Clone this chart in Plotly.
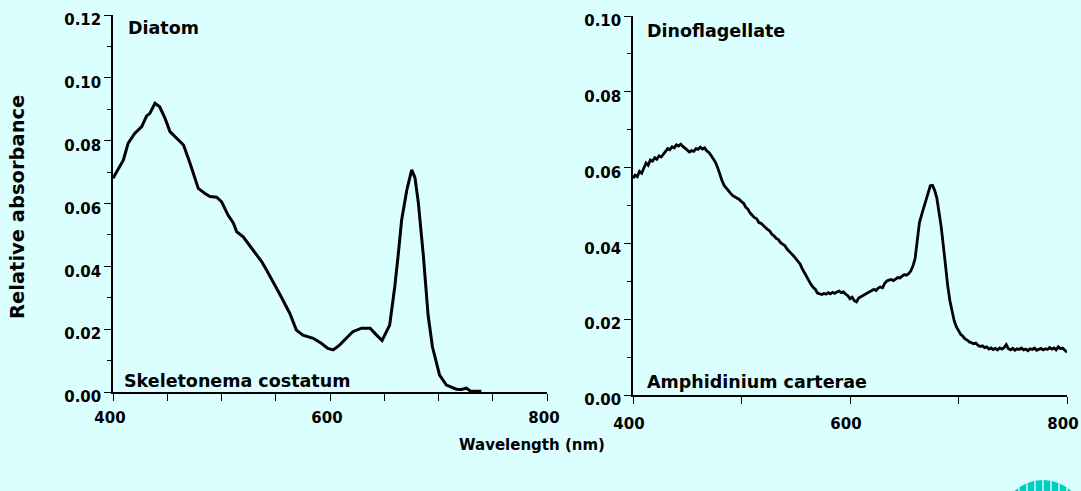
import plotly.graph_objects as go

# Diatom (Skeletonema costatum) absorption spectrum
diatom_nm = [400, 409.5, 414, 420, 426.5, 431, 434, 438.7, 443, 448, 452.5, 460, 465, 471,
             478.6, 484.8, 489.4, 495.5, 500, 506, 511, 514, 520, 529, 537, 541.5, 547.6,
             555, 563, 569, 575, 584.5, 592, 598, 603, 609, 615, 621, 629, 637, 643, 648,
             655, 659.7, 663, 666, 670.8, 673.7, 675.3, 678.3, 681.4, 686, 690.4, 694.4,
             701, 707.3, 716.5, 721, 725.7, 730, 739.5]
diatom_abs = [0.0680, 0.0738, 0.0792, 0.0823, 0.0845, 0.0879, 0.0887, 0.0919, 0.0908, 0.0871,
              0.0829, 0.0802, 0.0786, 0.0728, 0.0648, 0.0632, 0.0622, 0.0620, 0.0606, 0.0563,
              0.0537, 0.0510, 0.0494, 0.0452, 0.0415, 0.0388, 0.0351, 0.0303, 0.0250, 0.0197,
              0.0181, 0.0171, 0.0155, 0.0139, 0.0134, 0.0150, 0.0171, 0.0192, 0.0203, 0.0203,
              0.0181, 0.0164, 0.0213, 0.0335, 0.0441, 0.0547, 0.0643, 0.0691, 0.0707, 0.0682,
              0.0603, 0.0436, 0.0245, 0.0144, 0.0054, 0.0022, 0.0009, 0.0008, 0.0012, 0.0002,
              0.0002]

# Dinoflagellate (Amphidinium carterae) absorption spectrum
dino_nm = [400, 402, 404, 406, 408, 410, 412, 414, 416, 418, 420, 422, 424, 426, 428, 430,
           432, 434, 436, 438, 440, 442, 444, 446, 448, 450, 452, 454, 456, 458, 460, 462,
           464, 466, 468, 470, 472, 474, 476, 478, 480, 482, 484, 486, 488, 490, 492, 494,
           496, 498, 500, 502, 504, 506, 508, 510, 512, 514, 516, 518, 520, 522, 524, 526,
           528, 530, 532, 534, 536, 538, 540, 542, 544, 546, 548, 550, 552, 554, 556, 558,
           560, 562, 564, 566, 568, 570, 572, 574, 576, 578, 580, 582, 584, 586, 588, 590,
           592, 594, 596, 598, 600, 602, 604, 606, 608, 610, 612, 614, 616, 618, 620, 622,
           624, 626, 628, 630, 632, 634, 636, 638, 640, 642, 644, 646, 648, 650, 652, 654,
           656, 658, 660, 661, 662, 664, 666, 668, 670, 672, 674, 676, 678, 680, 682, 684,
           686, 688, 690, 692, 694, 696, 698, 700, 702, 704, 706, 708, 710, 712, 714, 716,
           718, 720, 722, 724, 726, 728, 730, 732, 734, 736, 738, 740, 742, 744, 746, 748,
           750, 752, 754, 756, 758, 760, 762, 764, 766, 768, 770, 772, 774, 776, 778, 780,
           782, 784, 786, 788, 790, 792, 794, 796, 798, 800]
dino_abs = [0.0572, 0.0580, 0.0576, 0.0590, 0.0585, 0.0601, 0.0612, 0.0606, 0.0620, 0.0617,
            0.0626, 0.0622, 0.0631, 0.0628, 0.0636, 0.0642, 0.0650, 0.0647, 0.0655, 0.0652,
            0.0660, 0.0657, 0.0662, 0.0656, 0.0650, 0.0646, 0.0641, 0.0645, 0.0643, 0.0650,
            0.0648, 0.0654, 0.0649, 0.0652, 0.0644, 0.0640, 0.0632, 0.0624, 0.0614, 0.0600,
            0.0582, 0.0566, 0.0553, 0.0545, 0.0537, 0.0532, 0.0526, 0.0523, 0.0518, 0.0516,
            0.0510, 0.0506, 0.0495, 0.0490, 0.0480, 0.0474, 0.0468, 0.0465, 0.0455, 0.0453,
            0.0446, 0.0442, 0.0437, 0.0433, 0.0424, 0.0420, 0.0413, 0.0410, 0.0402, 0.0398,
            0.0394, 0.0385, 0.0380, 0.0373, 0.0367, 0.0360, 0.0352, 0.0346, 0.0333, 0.0322,
            0.0312, 0.0303, 0.0292, 0.0284, 0.0279, 0.0269, 0.0268, 0.0265, 0.0268, 0.0266,
            0.0270, 0.0267, 0.0271, 0.0268, 0.0272, 0.0274, 0.0270, 0.0272, 0.0266, 0.0262,
            0.0254, 0.0258, 0.0249, 0.0246, 0.0256, 0.0259, 0.0262, 0.0265, 0.0269, 0.0273,
            0.0275, 0.0279, 0.0276, 0.0282, 0.0285, 0.0283, 0.0295, 0.0301, 0.0303, 0.0305,
            0.0302, 0.0307, 0.0310, 0.0309, 0.0313, 0.0318, 0.0316, 0.0320, 0.0327, 0.0340,
            0.0360, 0.0385, 0.0420, 0.0455, 0.0475, 0.0495, 0.0518, 0.0537, 0.0552, 0.0553,
            0.0540, 0.0520, 0.0485, 0.0445, 0.0395, 0.0340, 0.0290, 0.0250, 0.0218, 0.0196,
            0.0180, 0.0170, 0.0160, 0.0155, 0.0148, 0.0145, 0.0140, 0.0138, 0.0135, 0.0137,
            0.0131, 0.0128, 0.0130, 0.0125, 0.0127, 0.0121, 0.0124, 0.0120, 0.0123, 0.0119,
            0.0124, 0.0121, 0.0125, 0.0133, 0.0122, 0.0119, 0.0123, 0.0118, 0.0122, 0.0120,
            0.0124, 0.0119, 0.0121, 0.0117, 0.0122, 0.0120, 0.0124, 0.0118, 0.0121, 0.0123,
            0.0119, 0.0122, 0.0120, 0.0125, 0.0121, 0.0124, 0.0119, 0.0127, 0.0122, 0.0124,
            0.0118, 0.0113]

left_xticks = [400, 450, 500, 550, 600, 650, 700, 750, 800]
left_xtext = ["400", "", "", "", "600", "", "", "", "800"]
right_xticks = [400, 500, 600, 700, 800]
right_xtext = ["400", "", "600", "", "800"]
left_yticks = [0.00, 0.02, 0.04, 0.06, 0.08, 0.10, 0.12]
right_yticks = [0.00, 0.02, 0.04, 0.06, 0.08, 0.10]

W, H = 1081, 491
BG = "#DBFFFF"
FONT = "DejaVu Sans"


def px(x):
    return x / W


def py(y):
    return 1 - y / H


fig = go.Figure()
fig.add_trace(go.Scatter(x=diatom_nm, y=diatom_abs, mode="lines",
                         line=dict(color="black", width=3), xaxis="x", yaxis="y",
                         showlegend=False, hoverinfo="skip"))
fig.add_trace(go.Scatter(x=dino_nm, y=dino_abs, mode="lines",
                         line=dict(color="black", width=2.8), xaxis="x2", yaxis="y2",
                         showlegend=False, hoverinfo="skip"))

tickfont = dict(family=FONT, size=15, color="black", weight="bold")
axis_common = dict(showline=True, linecolor="black", linewidth=1.5, ticks="outside",
                   tickcolor="black", tickwidth=1.3, ticklen=7, showgrid=False,
                   zeroline=False, tickfont=tickfont, fixedrange=True, automargin=False)
minor_y = dict(ticks="outside", dtick=0.01, ticklen=4, tickcolor="black", tickwidth=1.3)

fig.update_layout(
    width=W, height=H,
    margin=dict(l=0, r=0, t=0, b=0, autoexpand=False),
    paper_bgcolor=BG, plot_bgcolor=BG,
    xaxis=dict(domain=[px(113), px(547)], range=[400, 800], anchor="y",
               tickvals=left_xticks, ticktext=left_xtext,
               ticklabelstandoff=4, ticklabelshift=-3, **axis_common),
    yaxis=dict(domain=[py(392), py(15)], range=[0, 0.12], anchor="x",
               tickvals=left_yticks, tickformat=".2f", ticklabelshift=5,
               minor=minor_y, **axis_common),
    xaxis2=dict(domain=[px(633), px(1067)], range=[400, 800], anchor="y2",
                tickvals=right_xticks, ticktext=right_xtext,
                ticklabelstandoff=7, ticklabelshift=-4, **axis_common),
    yaxis2=dict(domain=[py(395), py(16)], range=[0, 0.10], anchor="x2",
                tickvals=right_yticks, tickformat=".2f", ticklabelshift=5,
                minor=minor_y, **axis_common),
)

label_font = dict(family=FONT, size=17.5, color="black", weight="bold")
annots = [
    dict(text="Diatom", x=px(126), y=py(28), xanchor="left", yanchor="middle", font=label_font),
    dict(text="Dinoflagellate", x=px(645), y=py(31), xanchor="left", yanchor="middle", font=label_font),
    dict(text="Skeletonema costatum", x=px(122), y=py(381), xanchor="left", yanchor="middle", font=label_font),
    dict(text="Amphidinium carterae", x=px(645), y=py(382), xanchor="left", yanchor="middle", font=label_font),
    dict(text="Wavelength (nm)", x=px(532), y=py(445), xanchor="center", yanchor="middle",
         font=dict(family=FONT, size=15, color="black", weight="bold")),
    dict(text="Relative absorbance", x=px(18), y=py(207), xanchor="center", yanchor="middle",
         textangle=-90, font=dict(family=FONT, size=19.5, color="black", weight="bold")),
]
for a in annots:
    a.update(xref="paper", yref="paper", showarrow=False)
fig.update_layout(annotations=annots)

# Striped teal dome in the lower-right corner
cx, cy, r = 1043, 522, 42
shapes = [dict(type="circle", xref="paper", yref="paper",
               x0=px(cx - r), x1=px(cx + r), y0=py(cy + r), y1=py(cy - r),
               fillcolor="#00CDBE", line=dict(width=0), layer="above")]
for sx in range(1011, 1076, 8):
    dx = sx - cx
    if abs(dx) >= r:
        continue
    top = cy - (r * r - dx * dx) ** 0.5
    shapes.append(dict(type="line", xref="paper", yref="paper",
                       x0=px(sx), x1=px(sx), y0=py(top), y1=py(H + 2),
                       line=dict(color=BG, width=1.4), layer="above"))
fig.update_layout(shapes=shapes)

fig.write_html("out.html")
